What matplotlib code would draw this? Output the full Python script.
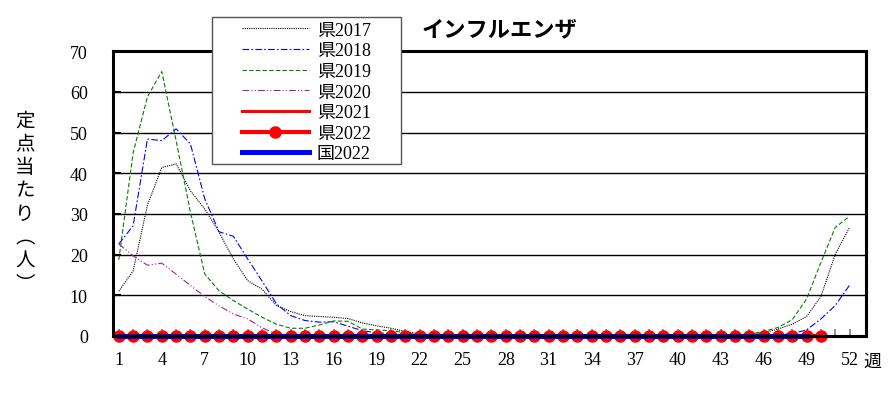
import matplotlib
matplotlib.use("Agg")
import matplotlib.pyplot as plt
from matplotlib.patches import Rectangle

# weekly values (per sentinel site)
ken2017 = [11.0, 16.0, 32.2, 41.4, 42.3, 35.7, 31.2, 25.5, 18.9, 13.6,
           11.5, 7.5, 6.0, 5.0, 4.8, 4.6, 4.3, 3.2, 2.5, 1.9,
           1.1, 0.5, 0.3, 0.2, 0.1, 0.1, 0.1, 0.1, 0.1, 0.1,
           0.1, 0.1, 0.1, 0.1, 0.1, 0.1, 0.1, 0.1, 0.1, 0.1,
           0.1, 0.1, 0.2, 0.2, 0.3, 0.8, 1.7, 2.9, 4.8, 9.7,
           20.1, 26.7]
ken2018 = [22.6, 27.1, 48.4, 48.0, 50.9, 47.2, 33.7, 25.6, 24.5, 18.9,
           13.5, 7.9, 5.0, 3.8, 3.4, 3.5, 2.4, 1.3, 0.8, 0.5,
           0.3, 0.2, 0.1, 0.1, 0.1, 0.1, 0.1, 0.1, 0.1, 0.1,
           0.1, 0.1, 0.1, 0.1, 0.1, 0.1, 0.1, 0.1, 0.1, 0.1,
           0.1, 0.1, 0.1, 0.1, 0.1, 0.2, 0.3, 0.6, 1.5, 4.2,
           7.5, 12.5]
ken2019 = [18.7, 45.0, 58.8, 65.0, 48.0, 30.4, 15.2, 11.1, 8.7, 6.6,
           4.6, 2.9, 1.9, 1.9, 2.7, 3.7, 3.6, 1.7, 1.5, 1.3,
           0.8, 0.3, 0.1, 0.1, 0.1, 0.1, 0.1, 0.1, 0.1, 0.1,
           0.1, 0.1, 0.1, 0.1, 0.1, 0.1, 0.1, 0.1, 0.1, 0.1,
           0.1, 0.1, 0.1, 0.2, 0.5, 1.1, 2.1, 4.0, 9.1, 18.1,
           26.7, 29.4]
ken2020 = [22.6, 19.7, 17.4, 17.9, 15.2, 12.4, 9.7, 7.4, 5.4, 4.2,
           2.0, 0.5, 0.2, 0.1, 0.0, 0.0, 0.0, 0.0, 0.0, 0.0,
           0.0, 0.0, 0.0, 0.0, 0.0, 0.0, 0.0, 0.0, 0.0, 0.0,
           0.0, 0.0, 0.0, 0.0, 0.0, 0.0, 0.0, 0.0, 0.0, 0.0,
           0.0, 0.0, 0.0, 0.0, 0.0, 0.0, 0.0, 0.0, 0.0, 0.0,
           0.0, 0.0, 0.0]
ken2021 = [0.0, 0.0, 0.0, 0.0, 0.0, 0.0, 0.0, 0.0, 0.0, 0.0,
           0.0, 0.0, 0.0, 0.0, 0.0, 0.0, 0.0, 0.0, 0.0, 0.0,
           0.0, 0.0, 0.0, 0.0, 0.0, 0.0, 0.0, 0.0, 0.0, 0.0,
           0.0, 0.0, 0.0, 0.0, 0.0, 0.0, 0.0, 0.0, 0.0, 0.0,
           0.0, 0.0, 0.0, 0.0, 0.0, 0.0, 0.0, 0.0, 0.0, 0.0,
           0.0, 0.0, 0.0]
ken2022 = [0.0, 0.0, 0.0, 0.0, 0.0, 0.0, 0.0, 0.0, 0.0, 0.0,
           0.0, 0.0, 0.0, 0.0, 0.0, 0.0, 0.0, 0.0, 0.0, 0.0,
           0.0, 0.0, 0.0, 0.0, 0.0, 0.0, 0.0, 0.0, 0.0, 0.0,
           0.0, 0.0, 0.0, 0.0, 0.0, 0.0, 0.0, 0.0, 0.0, 0.0,
           0.0, 0.0, 0.0, 0.0, 0.0, 0.0, 0.0, 0.0, 0.0, 0.0]
kuni2022 = [0.0, 0.0, 0.0, 0.0, 0.0, 0.0, 0.0, 0.0, 0.0, 0.0,
            0.0, 0.0, 0.0, 0.0, 0.0, 0.0, 0.0, 0.0, 0.0, 0.0,
            0.0, 0.0, 0.0, 0.0, 0.0, 0.0, 0.0, 0.0, 0.0, 0.0,
            0.0, 0.0, 0.0, 0.0, 0.0, 0.0, 0.0, 0.0, 0.0, 0.0,
            0.0, 0.0, 0.0, 0.0, 0.0, 0.0, 0.0, 0.0, 0.0]

labels = ["県2017", "県2018", "県2019", "県2020", "県2021", "県2022", "国2022"]
week_ticks = list(range(1, 53, 3))
y_ticks = [0, 10, 20, 30, 40, 50, 60, 70]

plt.rcParams['font.family'] = ['Liberation Serif', 'Noto Sans CJK JP']


def weeks(vals):
    return list(range(1, len(vals) + 1))


fig = plt.figure(figsize=(8.88, 4.14), dpi=100)
ax = fig.add_axes([0.127, 0.186, 0.848, 0.688])

ax.plot(weeks(ken2017), ken2017, color='black', lw=0.8, ls=(0, (1, 1)), label=labels[0])
ax.plot(weeks(ken2018), ken2018, color='blue', lw=0.8, ls=(0, (6, 2, 1.5, 2)), label=labels[1])
ax.plot(weeks(ken2019), ken2019, color='green', lw=0.8, ls=(0, (4, 2)), label=labels[2])
ax.plot(weeks(ken2020), ken2020, color='#a020a0', lw=0.8, ls=(0, (6, 2, 1, 2, 1, 2)), label=labels[3])
ax.plot(weeks(ken2021), ken2021, color='red', lw=2.2, label=labels[4], clip_on=False)
ax.plot(weeks(ken2022), ken2022, color='red', lw=3.0, marker='o', ms=8, label=labels[5], clip_on=False)
ax.plot(weeks(kuni2022), kuni2022, color='blue', lw=3.6, label=labels[6], clip_on=False)

ax.set_xlim(0.58, 53.13)
ax.set_ylim(0, 70)
ax.set_yticks(y_ticks)
ax.set_xticks(week_ticks)
ax.set_xticks(range(1, 53), minor=True)
ax.yaxis.grid(True, color='black', lw=1)
ax.set_axisbelow(True)
for s in ax.spines.values():
    s.set_linewidth(2.2)
ax.tick_params(axis='x', which='both', direction='in', length=5, width=1.2, color='gray',
               labelsize=13, pad=11)
ax.tick_params(axis='y', direction='in', length=6, width=1.5, labelsize=13, pad=18)

fig.text(0.982, 0.126, '週', fontsize=13, ha='center', va='center', family='Noto Sans CJK JP')
fig.text(0.563, 0.928, 'インフルエンザ', fontsize=16, fontweight='bold', ha='center', va='center',
         family='Noto Sans CJK JP')
fig.text(0.028, 0.51, '定\n点\n当\nた\nり\n︵\n人\n︶', fontsize=14, ha='center', va='center',
         linespacing=1.15, family='Noto Sans CJK JP')

# legend box drawn by hand so the handles sit inside a wide frame
fig.patches.append(Rectangle((0.2387, 0.6014), 0.2128, 0.3551, transform=fig.transFigure,
                             facecolor='white', edgecolor='#555555', lw=1, zorder=3))
fig.legend(loc='upper left', bbox_to_anchor=(0.2725, 0.945), frameon=False, fontsize=13,
           handlelength=3.7, labelspacing=0.2, borderpad=0, borderaxespad=0, handletextpad=0.45)

plt.savefig("out.png", dpi=100)
